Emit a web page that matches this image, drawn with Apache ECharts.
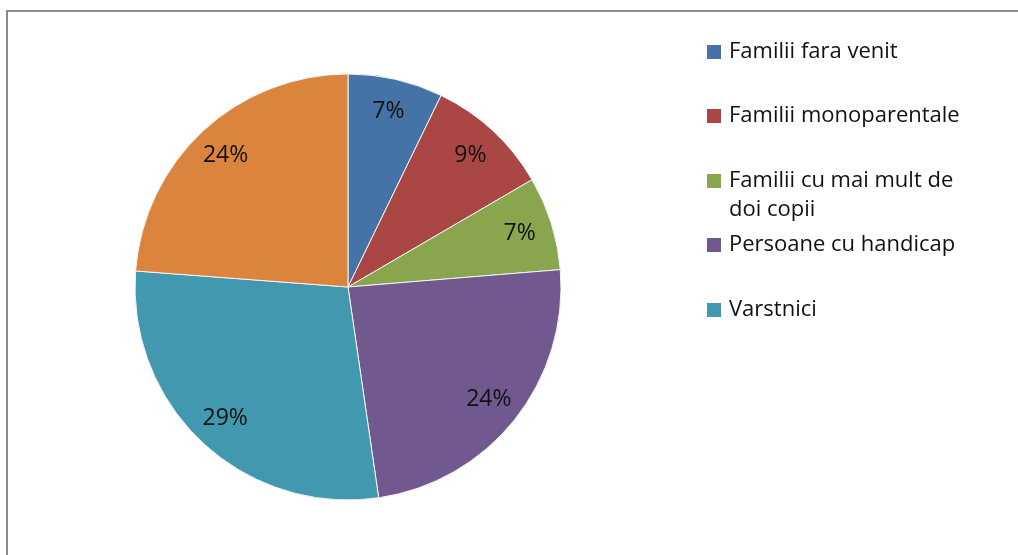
<!DOCTYPE html>
<html>
<head>
<meta charset="utf-8">
<script src="https://cdn.jsdelivr.net/npm/echarts@6/dist/echarts.min.js"></script>
<style>
  html, body { margin: 0; padding: 0; background: #fff; }
  #frame { position: absolute; left: 6px; top: 10px; width: 1100px; height: 600px;
           border-left: 2px solid #8a8a8a; border-top: 2px solid #8a8a8a; }
  #main { position: absolute; left: 0; top: 0; width: 1018px; height: 555px; }
</style>
</head>
<body>
<div id="frame"></div>
<div id="main"></div>
<script>
// categorii si valori (procente)
const categories = ["Familii fara venit", "Familii monoparentale", "Familii cu mai mult de doi copii", "Persoane cu handicap", "Varstnici", "Altele"];
const values = [7.2, 9.4, 7.1, 24.0, 28.5, 23.8];
const colors = ["#4572A7", "#AA4643", "#89A54E", "#71588F", "#4198AF", "#DB843D"];
const legendCenters = [52, 116, 181, 245, 310];

const font = "'Open Sans', sans-serif";
const chart = echarts.init(document.getElementById("main"));

const pieData = categories.map((name, i) => ({
  name: name,
  value: values[i],
  itemStyle: { color: colors[i] }
}));

// o legenda separata pt fiecare element, ca in Excel
const legends = legendCenters.map((c, i) => ({
  data: [categories[i]],
  left: 702,
  top: c - 18.5,
  icon: "rect",
  itemWidth: 14,
  itemHeight: 14,
  selectedMode: false,
  itemStyle: { borderWidth: 0 },
  formatter: i === 2 ? "Familii cu mai mult de" : "{name}",
  textStyle: {
    fontFamily: font,
    fontSize: 22,
    color: "#111",
    lineHeight: 27,
    padding: [0, 0, 0, 3]
  }
}));

const option = {
  animation: false,
  legend: legends,
  graphic: [{
    // al doilea rand din textul legendei 3
    type: "text",
    left: 729,
    top: 199,
    style: { text: "doi copii", font: "22px " + font, fill: "#111" }
  }],
  series: [
    {
      type: "pie",
      center: [348, 287],
      radius: [0, 213],
      startAngle: 90,
      clockwise: true,
      silent: true,
      label: { show: false },
      labelLine: { show: false },
      itemStyle: { borderColor: "#f4f4f4", borderWidth: 1 },
      data: pieData
    },
    {
      // serie transparenta doar pt etichete, mai aproape de margine
      type: "pie",
      center: [348, 287],
      radius: [141, 213],
      startAngle: 90,
      silent: true,
      legendHoverLink: false,
      label: {
        show: true,
        position: "inside",
        formatter: p => Math.round(p.value) + "%",
        fontFamily: font,
        fontSize: 23,
        color: "#111"
      },
      labelLine: { show: false },
      data: categories.map((name, i) => ({ name: name, value: values[i], itemStyle: { color: "rgba(0,0,0,0)" } }))
    }
  ]
};

chart.setOption(option);
</script>
</body>
</html>
